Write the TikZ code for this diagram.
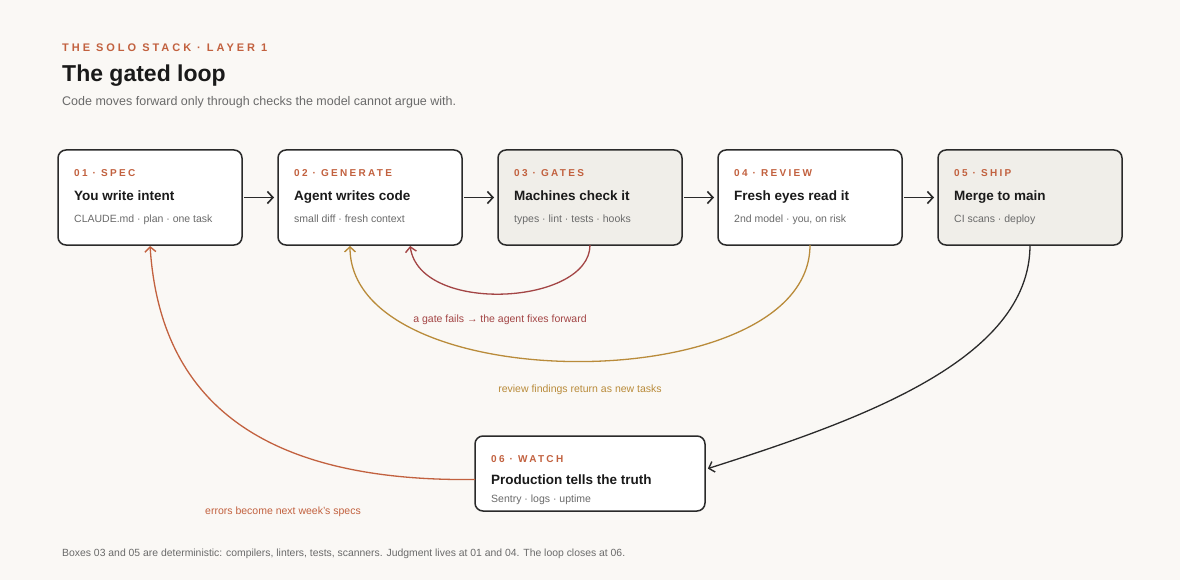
\documentclass[tikz,border=0pt]{standalone}
\usepackage{fontspec}
\setmainfont{Liberation Sans}
\newfontfamily\kickerfont[LetterSpace=27]{Liberation Sans}
\newfontfamily\tagfont[LetterSpace=23]{Liberation Sans}
\usetikzlibrary{arrows.meta,positioning,calc}
\definecolor{paper}{HTML}{FAF8F5}
\definecolor{gatefill}{HTML}{F0EEE9}
\definecolor{boxline}{HTML}{2A2A2A}
\definecolor{accent}{HTML}{C2613F}
\definecolor{inktext}{HTML}{1A1A1A}
\definecolor{mutetext}{HTML}{6A6A6A}
\definecolor{failred}{HTML}{A34545}
\definecolor{reviewgold}{HTML}{B98B3A}
\tikzset{
  stagebox/.style={
    draw=boxline,
    fill=white,
    line width=1.5pt,
    rounded corners=8pt,
    minimum width=184pt,
    minimum height=95pt,
    inner sep=0pt,
    outer sep=0pt
  },
  gatebox/.style={stagebox,fill=gatefill},
  tagtext/.style={anchor=base west,inner sep=0pt,text=accent,
    font=\tagfont\bfseries\fontsize{10}{12}\selectfont},
  titletext/.style={anchor=base west,inner sep=0pt,text=inktext,
    font=\bfseries\fontsize{13.5}{16}\selectfont},
  subtext/.style={anchor=base west,inner sep=0pt,text=mutetext,
    font=\fontsize{10.5}{13}\selectfont},
  looplabel/.style={inner sep=0pt,font=\fontsize{10.5}{13}\selectfont},
  dataflow/.style={-{Straight Barb[length=5.5pt,width=12pt,line width=1.6pt]},line width=1.6pt,draw=boxline,
    shorten <=2pt,shorten >=4pt},
  loopback/.style={-{Straight Barb[length=5pt,width=11pt,line width=1.4pt]},line width=1.3pt}
}
\begin{document}
\begin{tikzpicture}[x=1pt,y=-1pt,node distance=36pt]
  \fill[paper] (0,0) rectangle (1180,580);

  % heading
  \node[anchor=base west,inner sep=0pt,text=accent,
    font=\kickerfont\bfseries\fontsize{11}{13}\selectfont] (kicker) at (62,52) {THE SOLO STACK · LAYER 1};
  \node[anchor=base west,inner sep=0pt,text=inktext,
    font=\bfseries\fontsize{23}{27}\selectfont] (headline) at (62,82) {The gated loop};
  \node[anchor=base west,inner sep=0pt,text=mutetext,
    font=\fontsize{12.5}{15}\selectfont] (lede) at (62,106) {Code moves forward only through checks the model cannot argue with.};

  % the five forward stages
  \node[stagebox] (spec) at (150,197.5) {};
  \node[stagebox,right=of spec] (generate) {};
  \node[gatebox,right=of generate] (gates) {};
  \node[stagebox,right=of gates] (review) {};
  \node[gatebox,right=of review] (ship) {};
  \node[stagebox,minimum width=230pt,minimum height=75pt] (watch) at (590,473.5) {};

  \node[tagtext] (spectag) at ($(spec.north west)+(16,26.5)$) {01 · SPEC};
  \node[titletext] (spectitle) at ($(spec.north west)+(16,50.5)$) {You write intent};
  \node[subtext] (specsub) at ($(spec.north west)+(16,72.5)$) {CLAUDE.md · plan · one task};

  \node[tagtext] (generatetag) at ($(generate.north west)+(16,26.5)$) {02 · GENERATE};
  \node[titletext] (generatetitle) at ($(generate.north west)+(16,50.5)$) {Agent writes code};
  \node[subtext] (generatesub) at ($(generate.north west)+(16,72.5)$) {small diff · fresh context};

  \node[tagtext] (gatestag) at ($(gates.north west)+(16,26.5)$) {03 · GATES};
  \node[titletext] (gatestitle) at ($(gates.north west)+(16,50.5)$) {Machines check it};
  \node[subtext] (gatessub) at ($(gates.north west)+(16,72.5)$) {types · lint · tests · hooks};

  \node[tagtext] (reviewtag) at ($(review.north west)+(16,26.5)$) {04 · REVIEW};
  \node[titletext] (reviewtitle) at ($(review.north west)+(16,50.5)$) {Fresh eyes read it};
  \node[subtext] (reviewsub) at ($(review.north west)+(16,72.5)$) {2nd model · you, on risk};

  \node[tagtext] (shiptag) at ($(ship.north west)+(16,26.5)$) {05 · SHIP};
  \node[titletext] (shiptitle) at ($(ship.north west)+(16,50.5)$) {Merge to main};
  \node[subtext] (shipsub) at ($(ship.north west)+(16,72.5)$) {CI scans · deploy};

  \node[tagtext] (watchtag) at ($(watch.north west)+(16,26.5)$) {06 · WATCH};
  \node[titletext] (watchtitle) at ($(watch.north west)+(16,48.5)$) {Production tells the truth};
  \node[subtext] (watchsub) at ($(watch.north west)+(16,66.5)$) {Sentry · logs · uptime};

  % forward flow
  \draw[dataflow] (spec) -- (generate);
  \draw[dataflow] (generate) -- (gates);
  \draw[dataflow] (gates) -- (review);
  \draw[dataflow] (review) -- (ship);

  % loops back
  \coordinate (fixin) at ($(generate.south west)+(132,0)$);
  \coordinate (taskin) at ($(generate.south west)+(72,0)$);
  \coordinate (errout) at ($(watch.west)+(0,6)$);
  \coordinate (shipin) at ($(watch.east)+(0,-4)$);
  \draw[loopback,draw=failred,shorten >=1pt] (gates.south) .. controls (590,305) and (420,315) .. (fixin);
  \draw[loopback,draw=reviewgold,shorten >=1pt] (review.south) .. controls (810,400) and (350,400) .. (taskin);
  \draw[loopback,draw=boxline,shorten >=3pt] (ship.south) .. controls (1030,360) and (860,420) .. (shipin);
  \draw[loopback,draw=accent,shorten >=1pt] (errout) .. controls (260,482) and (160,400) .. (spec.south);

  \node[looplabel,text=failred] (fixlabel) at (500,320) {a gate fails → the agent fixes forward};
  \node[looplabel,text=reviewgold] (tasklabel) at (580,390) {review findings return as new tasks};
  \node[looplabel,text=accent] (errlabel) at (283,512) {errors become next week’s specs};

  % footnote
  \node[anchor=base west,inner sep=0pt,text=mutetext,
    font=\fontsize{10.4}{13}\selectfont] (footnote) at (62,556) {Boxes 03 and 05 are deterministic: compilers, linters, tests, scanners. Judgment lives at 01 and 04. The loop closes at 06.};
\end{tikzpicture}
\end{document}
